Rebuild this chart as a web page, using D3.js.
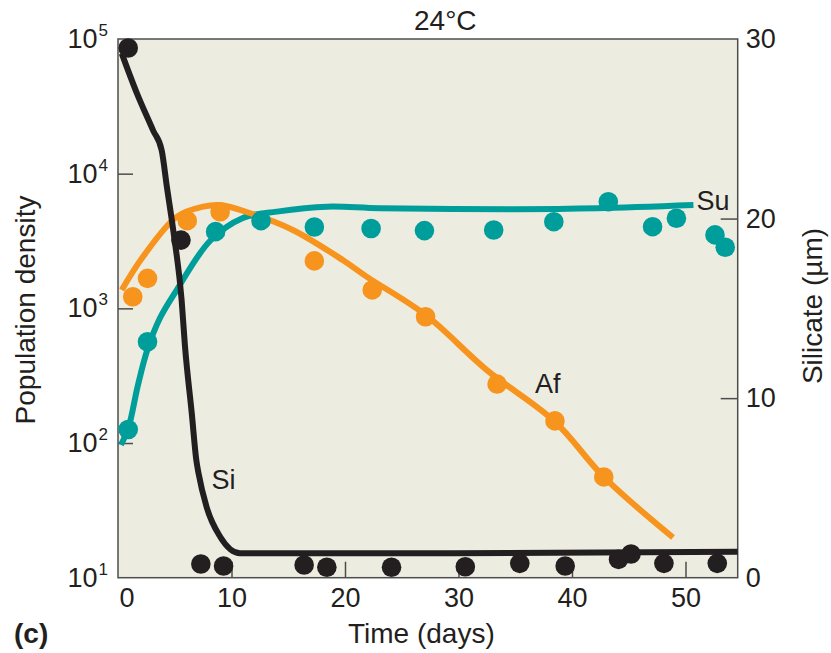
<!DOCTYPE html>
<html>
<head>
<meta charset="utf-8">
<script src="https://cdn.jsdelivr.net/npm/d3@7"></script>
<style>
  html, body { margin: 0; padding: 0; background: #ffffff; }
  svg { display: block; }
  text { font-family: "Liberation Sans", Arial, Helvetica, sans-serif; fill: #231f20; }
</style>
</head>
<body>
<svg id="chart" width="831" height="653"></svg>
<script>
// ---------- data ----------
const xTicks = [0, 10, 20, 30, 40, 50];
const leftTicks = [10, 100, 1000, 10000, 100000];
const leftTickExponents = ["1", "2", "3", "4", "5"];
const rightTicks = [0, 10, 20, 30];

// Su (teal) observed population density
const suDays = [0.9, 2.6, 8.6, 12.6, 17.3, 22.3, 27.0, 33.1, 38.4, 43.2, 47.1, 49.2, 52.6, 53.5];
const suDensity = [126, 565, 3710, 4480, 4020, 3920, 3780, 3820, 4400, 6190, 4040, 4670, 3510, 2840];
// Su fitted curve
const suFitDays = [0.26, 0.91, 1.76, 2.58, 3.7, 5.17, 8.1, 11.0, 14.0, 18.4, 23.1, 34.8, 42.2, 50.7];
const suFit = [97, 129, 270, 491, 848, 1368, 3162, 4690, 5225, 5690, 5530, 5445, 5530, 5850];

// Af (orange) observed population density
const afDays = [1.3, 2.6, 6.1, 9.0, 17.3, 22.4, 27.1, 33.4, 38.5, 42.8];
const afDensity = [1220, 1670, 4480, 5220, 2250, 1370, 867, 274, 146, 56];
// Af fitted curve
const afFitDays = [0.33, 2.2, 5.2, 7.5, 9.0, 11.6, 15.4, 19.8, 21.9, 27.1, 32.5, 38.5, 42.8, 48.9];
const afFit = [1370, 2415, 4800, 5690, 5850, 5105, 3820, 2285, 1720, 893, 348, 144, 56, 19.9];

// Si (black) silicate concentration (right axis)
const siDays = [0.9, 5.55, 7.3, 9.3, 16.4, 18.4, 24.1, 30.6, 35.4, 39.4, 44.1, 45.2, 48.1, 52.8];
const silicate = [29.5, 18.8, 0.76, 0.65, 0.71, 0.58, 0.58, 0.61, 0.80, 0.65, 1.02, 1.32, 0.80, 0.80];
// Si fitted curve
const siFitDays = [0.33, 1.65, 3.1, 3.85, 4.3, 4.9, 5.6, 5.9, 6.5, 6.9, 7.1, 7.8, 9.0, 10.75, 27.5, 54.6];
const siFit = [29.2, 27.0, 24.9, 23.8, 21.8, 19.2, 15.5, 12.9, 9.15, 6.55, 5.8, 3.95, 2.28, 1.36, 1.36, 1.45];

// ---------- layout ----------
const L = 118, R = 737.7, T = 39, B = 577.7;
const COL_SU = "#009e9a", COL_AF = "#f7941d", COL_SI = "#231f20";
const AXIS_COL = "#4d4d4d";

const svg = d3.select("#chart");

const x = d3.scaleLinear().domain([0, 54.6]).range([L, R]);
const yL = d3.scaleLog().domain([10, 1e5]).range([B, T]);
const yR = d3.scaleLinear().domain([0, 30]).range([B, T]);

// plot background
svg.append("rect").attr("x", L).attr("y", T).attr("width", R - L).attr("height", B - T)
  .attr("fill", "#edece1");

// axes
const styleAxis = g => {
  g.select(".domain").remove();
  g.selectAll(".tick line").attr("stroke", AXIS_COL).attr("stroke-width", 1.5);
  g.selectAll(".tick text").attr("fill", "#231f20")
    .style("font-family", '"Liberation Sans", Arial, sans-serif').style("font-size", "27px");
};

const gx = svg.append("g").attr("transform", `translate(0,${B})`)
  .call(d3.axisBottom(x).tickValues(xTicks).tickSize(-16).tickPadding(10).tickFormat(d3.format("d")))
  .call(styleAxis);
gx.selectAll(".tick").filter(d => d === 0).select("text").attr("dx", 8.5);
gx.selectAll(".tick").filter(d => d === 0).select("line").remove();

const gl = svg.append("g").attr("transform", `translate(${L},0)`)
  .call(d3.axisLeft(yL).tickValues(leftTicks).tickSize(-15).tickPadding(10).tickFormat(() => ""))
  .call(styleAxis);
gl.selectAll(".tick").filter(d => d === 10 || d === 1e5).select("line").remove();
gl.selectAll(".tick text").each(function(d, i) {
  const t = d3.select(this);
  t.text("10");
  t.append("tspan").attr("dy", -12).attr("dx", 1).style("font-size", "17px").text(leftTickExponents[i]);
});

const gr = svg.append("g").attr("transform", `translate(${R},0)`)
  .call(d3.axisRight(yR).tickValues(rightTicks).tickSize(-17).tickPadding(8).tickFormat(d3.format("d")))
  .call(styleAxis);
gr.selectAll(".tick").filter(d => d === 0 || d === 30).select("line").remove();

// frame
svg.append("rect").attr("x", L).attr("y", T).attr("width", R - L).attr("height", B - T)
  .attr("fill", "none").attr("stroke", AXIS_COL).attr("stroke-width", 1.5);

// lines
const smooth = d3.curveCatmullRom.alpha(0.5);
const lineL = d3.line().x(d => x(d[0])).y(d => yL(d[1])).curve(smooth);
const lineR = d3.line().x(d => x(d[0])).y(d => yR(d[1])).curve(d3.curveMonotoneX);

svg.append("path").datum(d3.zip(suFitDays, suFit)).attr("d", lineL)
  .attr("fill", "none").attr("stroke", COL_SU).attr("stroke-width", 6);
svg.append("path").datum(d3.zip(afFitDays, afFit)).attr("d", lineL)
  .attr("fill", "none").attr("stroke", COL_AF).attr("stroke-width", 6);
svg.append("path").datum(d3.zip(siFitDays, siFit)).attr("d", lineR)
  .attr("fill", "none").attr("stroke", COL_SI).attr("stroke-width", 6);

// dots
const R_DOT = 9.8;
svg.append("g").selectAll("circle").data(d3.zip(suDays, suDensity)).join("circle")
  .attr("cx", d => x(d[0])).attr("cy", d => yL(d[1])).attr("r", R_DOT).attr("fill", COL_SU);
svg.append("g").selectAll("circle").data(d3.zip(afDays, afDensity)).join("circle")
  .attr("cx", d => x(d[0])).attr("cy", d => yL(d[1])).attr("r", R_DOT).attr("fill", COL_AF);
svg.append("g").selectAll("circle").data(d3.zip(siDays, silicate)).join("circle")
  .attr("cx", d => x(d[0])).attr("cy", d => yR(d[1])).attr("r", R_DOT).attr("fill", COL_SI);

// series labels
svg.append("text").attr("x", 696.5).attr("y", 210).style("font-size", "27px").text("Su");
svg.append("text").attr("x", 535).attr("y", 393).style("font-size", "27px").text("Af");
svg.append("text").attr("x", 211.5).attr("y", 489).style("font-size", "27px").text("Si");

// titles
svg.append("text").attr("x", 414).attr("y", 30).style("font-size", "28px").text("24°C");
svg.append("text").attr("x", 348).attr("y", 643).style("font-size", "28px").text("Time (days)");
svg.append("text").attr("x", 14).attr("y", 643).style("font-size", "28px").style("font-weight", "bold").text("(c)");
svg.append("text").attr("transform", "translate(35,310) rotate(-90)").attr("text-anchor", "middle")
  .style("font-size", "28px").text("Population density");
svg.append("text").attr("transform", "translate(822,306) rotate(-90)").attr("text-anchor", "middle")
  .style("font-size", "28px").text("Silicate (µm)");
</script>
</body>
</html>
